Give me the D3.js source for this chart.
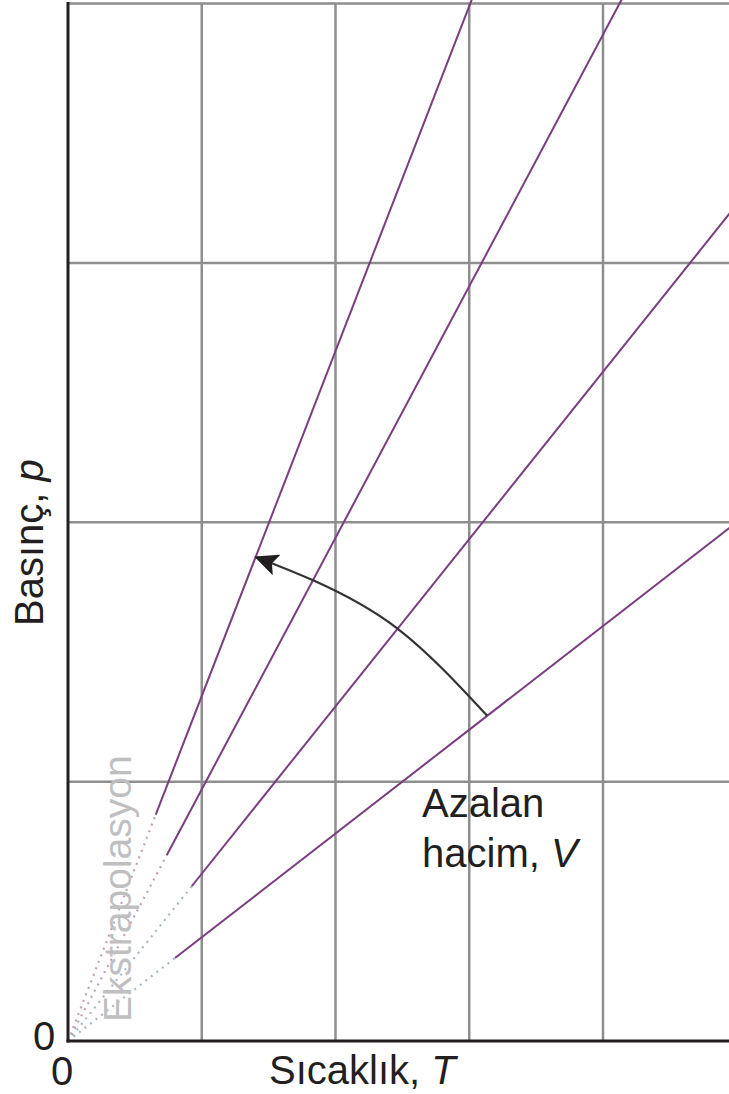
<!DOCTYPE html>
<html>
<head>
<meta charset="utf-8">
<script src="https://cdn.jsdelivr.net/npm/d3@7"></script>
<style>
  html, body { margin: 0; padding: 0; background: #fff; }
  svg { display: block; }
  text { font-family: "Liberation Sans", Arial, sans-serif; }
</style>
</head>
<body>
<svg id="chart" width="729" height="1094"></svg>
<script>
// ---- data ----
const xGridTicks = [0, 1, 2, 3, 4, 5];
const yGridTicks = [0, 1, 2, 3, 4];
const slopes = [1.33, 0.97, 0.645, 0.40];           // p = slope * T for each volume
const solidStart = [0.656, 0.738, 0.925, 0.80];      // T where measured (solid) part begins
const dotColors = ["#c4a0b4", "#c4a0b4", "#a4b8c8", "#a4b8c8"];
const arrowPts = [[3.134, 1.254], [2.468, 1.588], [1.832, 1.776], [1.406, 1.865]];
const xLabel = "Sıcaklık, ";
const xLabelVar = "T";
const yLabel = "Basınç, ";
const yLabelVar = "p";
const noteLines = ["Azalan", "hacim, "];
const noteVar = "V";
const extrapLabel = "Ekstrapolasyon";
const zeroLabel = "0";

// ---- layout ----
const W = 729, H = 1094;
const x = d3.scaleLinear().domain([0, 5]).range([68, 736.75]);
const y = d3.scaleLinear().domain([0, 4]).range([1041, 3.5]);
const svg = d3.select("#chart");

svg.append("defs").append("clipPath").attr("id", "plotclip")
  .append("rect").attr("x", x(0)).attr("y", 0).attr("width", W - x(0)).attr("height", y(0));

// grid
const grid = svg.append("g").attr("stroke", "#8e8e90").attr("stroke-width", 2.5);
grid.selectAll("line.v").data(xGridTicks.filter(d => d > 0)).join("line")
  .attr("x1", d => x(d)).attr("x2", d => x(d)).attr("y1", y(4)).attr("y2", y(0));
grid.selectAll("line.h").data(yGridTicks.filter(d => d > 0)).join("line")
  .attr("x1", x(0)).attr("x2", W).attr("y1", d => y(d)).attr("y2", d => y(d));

// lines
const plot = svg.append("g").attr("clip-path", "url(#plotclip)");
const Tmax = 6;
plot.selectAll("line.dot").data(slopes).join("line")
  .attr("x1", x(0)).attr("y1", y(0))
  .attr("x2", (d, i) => x(solidStart[i])).attr("y2", (d, i) => y(d * solidStart[i]))
  .attr("stroke", (d, i) => dotColors[i]).attr("stroke-width", 2.2)
  .attr("stroke-dasharray", "2,5");
plot.selectAll("line.solid").data(slopes).join("line")
  .attr("x1", (d, i) => x(solidStart[i])).attr("y1", (d, i) => y(d * solidStart[i]))
  .attr("x2", x(Tmax)).attr("y2", d => y(d * Tmax))
  .attr("stroke", "#7a3d80").attr("stroke-width", 2);

// axes frame
svg.append("line").attr("x1", x(0)).attr("x2", x(0)).attr("y1", y(4) - 1.5).attr("y2", y(0) + 1.5)
  .attr("stroke", "#231f20").attr("stroke-width", 3);
svg.append("line").attr("x1", x(0) - 1.5).attr("x2", W).attr("y1", y(0)).attr("y2", y(0))
  .attr("stroke", "#231f20").attr("stroke-width", 3);

// arrow
svg.append("defs").append("marker").attr("id", "arrowhead")
  .attr("markerUnits", "userSpaceOnUse")
  .attr("viewBox", "0 0 24 22").attr("refX", 22).attr("refY", 11)
  .attr("markerWidth", 24).attr("markerHeight", 22).attr("orient", "auto")
  .append("path").attr("d", "M0,0 L24,11 L0,22 L5,11 Z").attr("fill", "#231f20");
const arrowLine = d3.line().x(d => x(d[0])).y(d => y(d[1])).curve(d3.curveNatural);
svg.append("path").datum(arrowPts).attr("d", arrowLine)
  .attr("fill", "none").attr("stroke", "#333").attr("stroke-width", 2.2)
  .attr("marker-end", "url(#arrowhead)");

// texts
const fs = 40;
const xl = svg.append("text").attr("x", 269).attr("y", 1084).attr("font-size", 40).attr("fill", "#231f20");
xl.append("tspan").text(xLabel);
xl.append("tspan").attr("font-style", "italic").text(xLabelVar);

const yl = svg.append("text").attr("transform", "translate(43,626) rotate(-90)")
  .attr("font-size", fs).attr("fill", "#231f20");
yl.append("tspan").text(yLabel);
yl.append("tspan").attr("font-style", "italic").text(yLabelVar);

const note = svg.append("text").attr("font-size", fs).attr("fill", "#231f20");
note.append("tspan").attr("x", 422).attr("y", 817).text(noteLines[0]);
note.append("tspan").attr("x", 422).attr("y", 867).text(noteLines[1]);
note.append("tspan").attr("font-style", "italic").text(noteVar);

svg.append("text").attr("transform", "translate(131,1022) rotate(-90)")
  .attr("font-size", 39).attr("fill", "#bfbfc1").text(extrapLabel);

svg.append("text").attr("x", 44).attr("y", 1050).attr("text-anchor", "middle")
  .attr("font-size", fs).attr("fill", "#231f20").text(zeroLabel);
svg.append("text").attr("x", 62).attr("y", 1085).attr("text-anchor", "middle")
  .attr("font-size", fs).attr("fill", "#231f20").text(zeroLabel);
</script>
</body>
</html>
